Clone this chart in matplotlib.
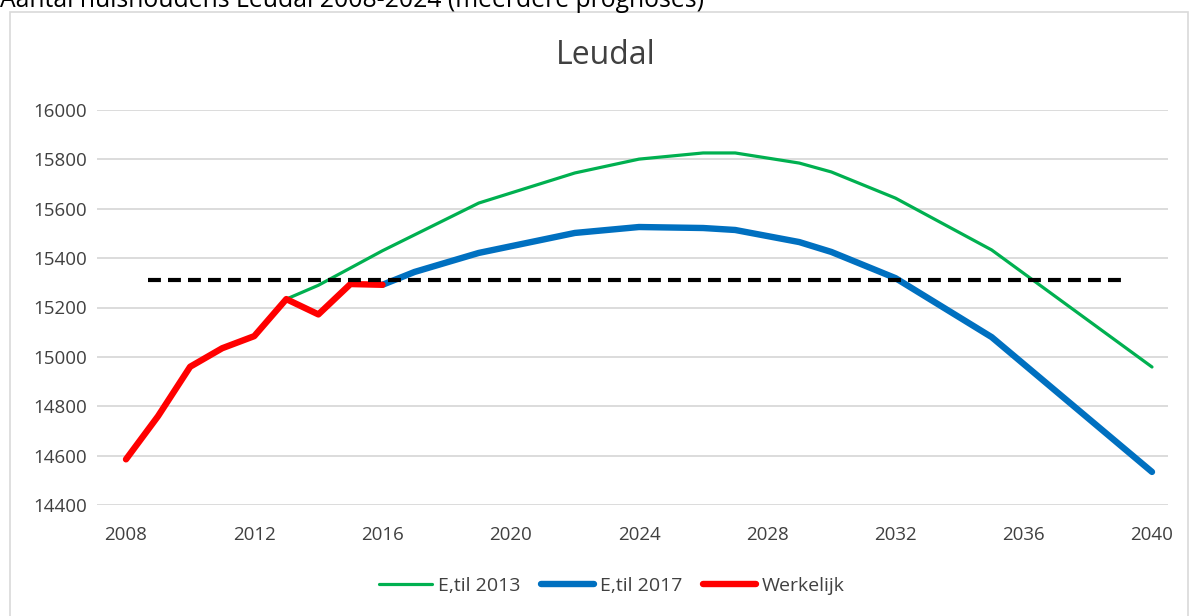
import matplotlib.pyplot as plt
from matplotlib.patches import Rectangle

plt.rcParams['font.family'] = ['Open Sans', 'DejaVu Sans']

# werkelijk aantal huishoudens
years_real = [2008, 2009, 2010, 2011, 2012, 2013, 2014, 2015, 2016]
real = [14585, 14760, 14960, 15035, 15084, 15234, 15172, 15295, 15292]

# prognose 2013
years_2013 = [2013, 2014, 2016, 2019, 2022, 2024, 2026, 2027, 2029, 2030, 2032, 2035, 2040]
prog_2013 = [15234, 15290, 15430, 15623, 15745, 15801, 15826, 15826, 15785, 15749, 15643, 15433, 14959]

# prognose 2017
years_2017 = [2016, 2017, 2019, 2022, 2024, 2026, 2027, 2029, 2030, 2032, 2035, 2040]
prog_2017 = [15292, 15344, 15421, 15502, 15526, 15522, 15514, 15465, 15425, 15319, 15080, 14534]

# stippellijn
dash_years = [2008.7, 2039.1]
dash_value = [15310, 15310]

xticks = list(range(2008, 2041, 4))
yticks = list(range(14400, 16001, 200))

fig = plt.figure(figsize=(11.9, 6.16), dpi=100)
ax = fig.add_axes([97/1190, 1 - 505/616, (1168-97)/1190, 395/616])

ax.plot(years_2013, prog_2013, color='#00b050', lw=2.3, label='E,til 2013', solid_capstyle='round')
ax.plot(years_2017, prog_2017, color='#0070c0', lw=4.6, label='E,til 2017', solid_capstyle='round')
ax.plot(years_real, real, color='#ff0000', lw=4.6, label='Werkelijk', solid_capstyle='round')
ax.plot(dash_years, dash_value, color='black', lw=3, dashes=(3.1, 1.7))

ax.set_xlim(2008 - 29/32.06, 2040 + 16/32.06)
ax.set_ylim(14400, 16000)
ax.set_xticks(xticks)
ax.set_yticks(yticks)
ax.tick_params(length=0, labelsize=13.5, labelcolor='#404040', pad=7)
ax.tick_params(axis='x', pad=15)
ax.grid(axis='y', color='#d9d9d9', lw=1.3)
ax.set_axisbelow(True)
for s in ax.spines.values():
    s.set_visible(False)

fig.text(606/1190, 1 - 56/616, 'Leudal', ha='center', va='center', fontsize=23, color='#404040')
fig.text(0.0, 1 - 7/616, 'Aantal huishoudens Leudal 2008-2024 (meerdere prognoses)',
         ha='left', va='baseline', fontsize=17.8, color='black')

fig.patches.append(Rectangle((10/1190, -0.05), (1188-10)/1190, 1.05 - 12/616,
                             transform=fig.transFigure, fill=False, ec='#d9d9d9', lw=1.2))

h, l = ax.get_legend_handles_labels()
fig.legend(h, l, loc='center', bbox_to_anchor=(612/1190, 1 - 586/616), ncol=3, frameon=False,
           fontsize=14, handlelength=2.7, handletextpad=0.3, columnspacing=1.1, labelcolor='#404040')

fig.savefig('out.png', dpi=100)
